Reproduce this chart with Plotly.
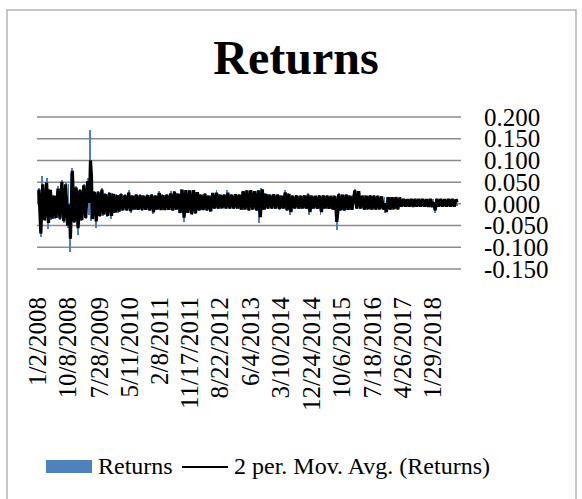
import pandas as pd
import plotly.graph_objects as go

# ---- data -------------------------------------------------------------
chart_title = "Returns"
bar_name = "Returns"
avg_name = "2 per. Mov. Avg. (Returns)"
first_day = "2008-01-02"
last_day = "2018-09-11"

# daily returns, sampled along the period
returns = [
    0.030, 0.036, -0.060, -0.076, 0.065, 0.025, -0.035, -0.040, 0.038, 0.060, -0.030, -0.058, 0.035, 0.030, -0.038, -0.030, 0.020, 0.018, -0.035, -0.030,
    0.030, 0.040, -0.030, -0.038, 0.046, 0.055, -0.035, -0.045, 0.040, 0.050, -0.045, -0.055, 0.045, -0.050, -0.110, 0.070, 0.082, -0.040, -0.045, 0.035,
    0.040, -0.040, -0.072, 0.030, 0.035, -0.040, -0.035, 0.040, 0.045, -0.030, -0.035, 0.045, 0.060, -0.025, 0.030, 0.170, -0.040, -0.030, 0.025, 0.030,
    -0.025, -0.056, 0.025, 0.030, -0.025, -0.030, 0.030, 0.036, -0.028, -0.022, 0.025, 0.020, -0.030, -0.025, 0.028, 0.022, -0.020, -0.035, 0.026, 0.020,
    -0.022, -0.018, 0.022, 0.018, -0.020, -0.015, 0.020, 0.024, -0.016, -0.014, 0.018, 0.022, -0.014, -0.016, 0.020, 0.032, -0.012, -0.022, 0.018, 0.020,
    -0.014, -0.012, 0.020, 0.022, -0.014, -0.013, 0.018, 0.022, -0.012, -0.016, 0.020, 0.018, -0.015, -0.012, 0.022, 0.018, -0.014, -0.016, 0.020, 0.022,
    -0.015, -0.024, 0.018, 0.020, -0.014, -0.012, 0.020, 0.030, -0.014, -0.015, 0.022, 0.018, -0.013, -0.015, 0.020, 0.022, -0.015, -0.012, 0.018, 0.030,
    -0.014, -0.016, 0.026, 0.030, -0.014, -0.012, 0.025, 0.022, -0.020, -0.022, 0.035, 0.030, -0.022, -0.041, 0.033, 0.030, -0.022, -0.020, 0.032, 0.030,
    -0.022, -0.025, 0.030, 0.033, -0.020, -0.024, 0.028, 0.026, -0.014, -0.016, 0.022, 0.020, -0.015, -0.013, 0.022, 0.024, -0.014, -0.016, 0.020, 0.018,
    -0.018, -0.016, 0.026, 0.024, -0.012, -0.010, 0.020, 0.031, -0.010, -0.012, 0.022, 0.020, -0.011, -0.009, 0.020, 0.022, -0.010, -0.012, 0.031, 0.020,
    -0.010, -0.012, 0.022, 0.020, -0.010, -0.011, 0.021, 0.023, -0.012, -0.010, 0.020, 0.022, -0.012, -0.014, 0.028, 0.030, -0.014, -0.012, 0.032, 0.030,
    -0.014, -0.016, 0.030, 0.033, -0.014, -0.012, 0.030, 0.028, -0.014, -0.016, 0.032, 0.030, -0.045, -0.016, 0.037, 0.030, -0.014, -0.012, 0.024, 0.022,
    -0.010, -0.012, 0.022, 0.020, -0.010, -0.011, 0.021, 0.023, -0.012, -0.010, 0.020, 0.022, -0.011, -0.013, 0.020, 0.018, -0.010, -0.012, 0.022, 0.031,
    -0.014, -0.016, 0.024, 0.022, -0.026, -0.012, 0.020, 0.018, -0.010, -0.012, 0.020, 0.019, -0.010, -0.011, 0.018, 0.020, -0.012, -0.010, 0.019, 0.020,
    -0.010, -0.012, 0.018, 0.024, -0.026, -0.012, 0.020, 0.018, -0.011, -0.010, 0.019, 0.018, -0.012, -0.010, 0.020, 0.018, -0.026, -0.012, 0.019, 0.020,
    -0.011, -0.010, 0.018, 0.020, -0.012, -0.011, 0.019, 0.018, -0.012, -0.014, 0.020, 0.016, -0.022, -0.061, 0.020, 0.024, -0.016, -0.014, 0.022, 0.020,
    -0.014, -0.016, 0.020, 0.022, -0.014, -0.013, 0.020, 0.018, -0.015, -0.012, 0.021, 0.028, 0.034, -0.010, -0.012, 0.030, 0.028, -0.012, -0.010, 0.018,
    0.020, -0.012, -0.014, 0.020, 0.018, -0.013, -0.012, 0.019, 0.020, -0.014, -0.012, 0.018, 0.020, -0.012, -0.014, 0.019, 0.018, -0.013, -0.012, 0.018,
    0.016, -0.012, -0.014, 0.016, -0.022, -0.016, 0.016, 0.015, -0.012, -0.014, 0.016, 0.014, -0.013, -0.012, 0.015, 0.016, -0.012, -0.013, 0.014, 0.015,
    -0.007, -0.006, 0.012, 0.011, -0.006, -0.007, 0.012, 0.010, -0.007, -0.006, 0.011, 0.012, -0.006, -0.008, 0.012, 0.011, -0.007, -0.006, 0.011, 0.012,
    -0.006, -0.007, 0.012, 0.011, -0.006, -0.007, 0.012, 0.010, -0.008, -0.006, 0.011, 0.012, -0.007, -0.008, 0.011, -0.010, -0.020, 0.011, 0.012, -0.006,
    -0.007, 0.012, 0.011, -0.006, -0.007, 0.012, 0.010, -0.007, -0.006, 0.011, 0.012, -0.006, -0.007, 0.011, 0.012, -0.006, -0.007, 0.010, 0.011, -0.005,
]

tick_dates = ["2008-01-02", "2008-10-08", "2009-07-28", "2010-05-11", "2011-02-08",
              "2011-11-17", "2012-08-22", "2013-06-04", "2014-03-10", "2014-12-24",
              "2015-10-06", "2016-07-18", "2017-04-26", "2018-01-29"]
tick_labels = ["1/2/2008", "10/8/2008", "7/28/2009", "5/11/2010", "2/8/2011",
               "11/17/2011", "8/22/2012", "6/4/2013", "3/10/2014", "12/24/2014",
               "10/6/2015", "7/18/2016", "4/26/2017", "1/29/2018"]
y_ticks = [-0.15, -0.10, -0.05, 0.0, 0.05, 0.10, 0.15, 0.20]
y_tick_labels = ["-0.150", "-0.100", "-0.050", "0.000", "0.050", "0.100", "0.150", "0.200"]

# ---- derived series ---------------------------------------------------
dates = pd.date_range(first_day, last_day, periods=len(returns))
ret = pd.Series(returns, index=dates)
mov_avg = ret.rolling(2).mean()

# ---- figure geometry --------------------------------------------------
W, H = 582, 499
ML, MR, MT, MB = 37, 121, 116, 229
PW, PH = W - ML - MR, H - MT - MB
SERIF = "Liberation Serif"
BLUE = "#4F81BD"
GRID = "#8c8c8c"


def px_x(p):
    return (p - ML) / PW


def px_y(p):
    return (H - MB - p) / PH


fig = go.Figure()
fig.add_trace(go.Bar(x=dates, y=ret.values, name=bar_name,
                     marker=dict(color=BLUE, line=dict(width=0))))
fig.add_trace(go.Scatter(x=dates, y=mov_avg.values, name=avg_name, mode="lines",
                         line=dict(color="black", width=3.2)))

# horizontal grid at every labelled value (including both range ends)
shapes = [
    dict(type="line", xref="paper", yref="y", x0=0, x1=1, y0=v, y1=v,
         layer="below", line=dict(color=GRID, width=1.5))
    for v in y_ticks
]
# chart frame and legend keys
shapes += [
    dict(type="rect", xref="paper", yref="paper",
         x0=px_x(7), x1=px_x(576), y0=px_y(510), y1=px_y(10),
         line=dict(color="#b4b4b4", width=1.5), fillcolor="rgba(0,0,0,0)"),
    dict(type="rect", xref="paper", yref="paper",
         x0=px_x(46), x1=px_x(92), y0=px_y(473), y1=px_y(460),
         line=dict(width=0), fillcolor=BLUE),
    dict(type="line", xref="paper", yref="paper",
         x0=px_x(182), x1=px_x(228), y0=px_y(467), y1=px_y(467),
         line=dict(color="black", width=2)),
]
annotations = [
    dict(text=bar_name, xref="paper", yref="paper", x=px_x(96), y=px_y(466),
         xanchor="left", yanchor="middle", showarrow=False,
         font=dict(family=SERIF, size=24, color="black")),
    dict(text=avg_name, xref="paper", yref="paper", x=px_x(232), y=px_y(466),
         xanchor="left", yanchor="middle", showarrow=False,
         font=dict(family=SERIF, size=24, color="black")),
]

fig.update_layout(
    width=W, height=H,
    margin=dict(l=ML, r=MR, t=MT, b=MB, pad=0),
    paper_bgcolor="white", plot_bgcolor="white",
    showlegend=False,
    bargap=0,
    title=dict(text=chart_title, x=296 / W, xanchor="center",
               y=1 - 57 / H, yanchor="middle", yref="container",
               font=dict(family=SERIF, size=48, color="black", weight="bold")),
    xaxis=dict(type="date", range=["2007-12-24", "2018-10-18"],
               tickmode="array", tickvals=tick_dates, ticktext=tick_labels,
               tickangle=-90, showgrid=False, zeroline=False, showline=False,
               ticks="", ticklabelstandoff=21,
               tickfont=dict(family=SERIF, size=25, color="black")),
    yaxis=dict(side="right", range=[-0.1523, 0.2023],
               tickmode="array", tickvals=y_ticks, ticktext=y_tick_labels,
               showgrid=False, zeroline=False, showline=False,
               ticks="", ticklabelstandoff=22,
               tickfont=dict(family=SERIF, size=25, color="black")),
    shapes=shapes,
    annotations=annotations,
)

fig.write_html("out.html")
